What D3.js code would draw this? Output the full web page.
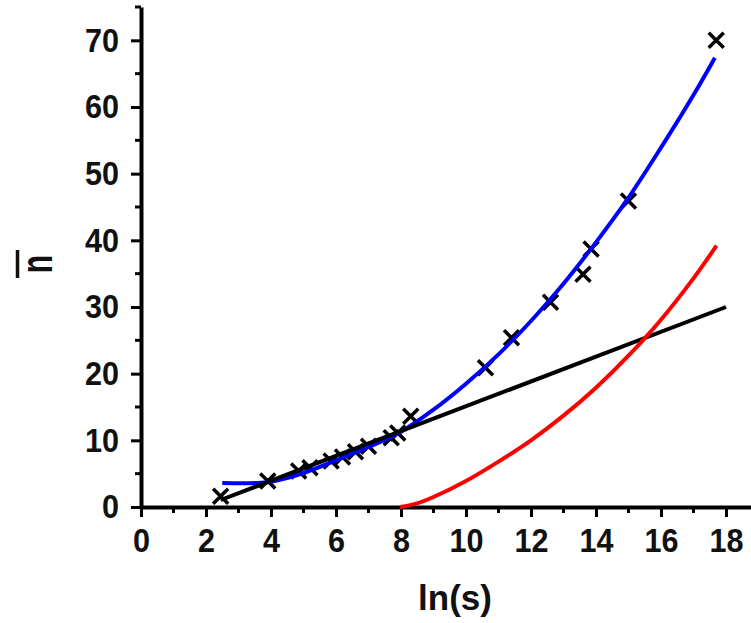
<!DOCTYPE html>
<html>
<head>
<meta charset="utf-8">
<script src="https://cdn.jsdelivr.net/npm/d3@7"></script>
<style>
  body { margin: 0; background: #fff; }
  svg { display: block; font-family: 'Liberation Sans', Arial, sans-serif; }
</style>
</head>
<body>
<div id="chart"></div>
<script>
// measured points (ln(s), n-bar)
const pointsX = [2.45, 3.9, 4.85, 5.2, 5.85, 6.2, 6.6, 7.0, 7.7, 7.9, 8.3, 10.6, 11.4, 12.6, 13.6, 13.85, 15.0, 17.7]
const pointsY = [1.6, 3.9, 5.4, 5.9, 6.9, 7.5, 8.3, 9.1, 10.4, 11.1, 13.6, 20.9, 25.4, 30.7, 34.9, 38.7, 45.9, 70]

// blue fitted curve
const blueX = [2.5, 3.5, 4.0, 5.0, 6.0, 7.0, 8.0, 9.0, 10.0, 11.0, 12.0, 13.0, 14.0, 15.0, 16.0, 17.0, 17.66]
const blueY = [3.6, 3.6, 3.8, 5.1, 7.0, 9.0, 11.3, 14.6, 18.5, 22.9, 27.9, 33.5, 39.7, 46.4, 53.9, 61.8, 67.4]

// black straight line
const blackX = [2.45, 18.0]
const blackY = [1.05, 30.0]

// red curve
const redX = [7.97, 8.5, 9.0, 10.0, 11.0, 12.0, 13.0, 14.0, 15.0, 16.0, 17.0, 17.71]
const redY = [0, 0.55, 1.5, 3.9, 6.8, 10.0, 13.7, 17.9, 22.7, 28.1, 34.3, 39.2]

const xMajor = [0, 2, 4, 6, 8, 10, 12, 14, 16, 18]
const xMinor = [1, 3, 5, 7, 9, 11, 13, 15, 17]
const yMajor = [0, 10, 20, 30, 40, 50, 60, 70]
const yMinor = [5, 15, 25, 35, 45, 55, 65, 75]

const margin = { top: 7, left: 141, right: 0, bottom: 116 }
const width = 751 - margin.left - margin.right
const height = 623 - margin.top - margin.bottom

const svg = d3
  .select('#chart')
  .append('svg')
  .attr('width', 751)
  .attr('height', 623)
  .append('g')
  .attr('transform', 'translate(' + margin.left + ',' + margin.top + ')')

const x = d3.scaleLinear().domain([0, 18.77]).range([0, width])
const y = d3.scaleLinear().domain([0, 75]).range([height, 0])

// axes
const xAxis = svg
  .append('g')
  .attr('transform', 'translate(0,' + height + ')')
  .call(d3.axisBottom(x).tickValues(xMajor).tickSize(10).tickSizeOuter(0).tickFormat(d3.format('d')))
xAxis.append('g')
  .selectAll('line')
  .data(xMinor)
  .enter()
  .append('line')
  .attr('x1', d => x(d))
  .attr('x2', d => x(d))
  .attr('y1', 0)
  .attr('y2', 6)

const yAxis = svg
  .append('g')
  .call(d3.axisLeft(y).tickValues(yMajor).tickSize(10).tickSizeOuter(0).tickFormat(d3.format('d')))
yAxis.append('g')
  .selectAll('line')
  .data(yMinor)
  .enter()
  .append('line')
  .attr('y1', d => y(d))
  .attr('y2', d => y(d))
  .attr('x1', 0)
  .attr('x2', -6)

svg.selectAll('.domain').attr('stroke', '#000').attr('stroke-width', 4)
svg.selectAll('line').attr('stroke', '#000').attr('stroke-width', 3)
svg.selectAll('.tick text')
  .attr('font-size', 34)
  .attr('font-weight', 'bold')
  .attr('fill', '#111')
xAxis.selectAll('.tick text').attr('y', 45).attr('dy', 0).attr('transform', 'scale(0.9,1)')
yAxis.selectAll('.tick text').attr('x', -24.5).attr('transform', 'scale(0.9,1)')

// data crosses
const pts = pointsX.map((d, i) => ({ x: d, y: pointsY[i] }))
svg
  .selectAll('.cross')
  .data(pts)
  .enter()
  .append('path')
  .attr('class', 'cross')
  .attr('d', d => {
    const cx = x(d.x)
    const cy = y(d.y)
    const r = 7.5
    return 'M' + (cx - r) + ',' + (cy - r) + 'L' + (cx + r) + ',' + (cy + r) +
      'M' + (cx - r) + ',' + (cy + r) + 'L' + (cx + r) + ',' + (cy - r)
  })
  .attr('stroke', '#000')
  .attr('stroke-width', 3.5)
  .attr('fill', 'none')

const line = d3
  .line()
  .x(d => x(d[0]))
  .y(d => y(d[1]))
  .curve(d3.curveCatmullRom.alpha(0.5))

function drawCurve(xs, ys, color) {
  svg
    .append('path')
    .datum(xs.map((d, i) => [d, ys[i]]))
    .attr('d', line)
    .attr('fill', 'none')
    .attr('stroke', color)
    .attr('stroke-width', 4)
}

drawCurve(blueX, blueY, '#0000ff')
drawCurve(blackX, blackY, '#000000')
drawCurve(redX, redY, '#ff0000')

// axis titles
svg
  .append('text')
  .attr('x', 455 - margin.left)
  .attr('y', 610 - margin.top)
  .attr('text-anchor', 'middle')
  .attr('font-size', 35)
  .attr('font-weight', 'bold')
  .attr('fill', '#111')
  .text('ln(s)')

const yLabel = svg
  .append('g')
  .attr('transform', 'translate(' + (52 - margin.left) + ',' + (264 - margin.top) + ') rotate(-90)')
yLabel
  .append('text')
  .attr('text-anchor', 'middle')
  .attr('font-size', 30)
  .attr('font-weight', 'bold')
  .attr('fill', '#111')
  .attr('transform', 'scale(1,1.45)')
  .text('n')
yLabel
  .append('line')
  .attr('x1', -14)
  .attr('x2', 14)
  .attr('y1', -34.5)
  .attr('y2', -34.5)
  .attr('stroke', '#111')
  .attr('stroke-width', 3.5)
</script>
</body>
</html>
